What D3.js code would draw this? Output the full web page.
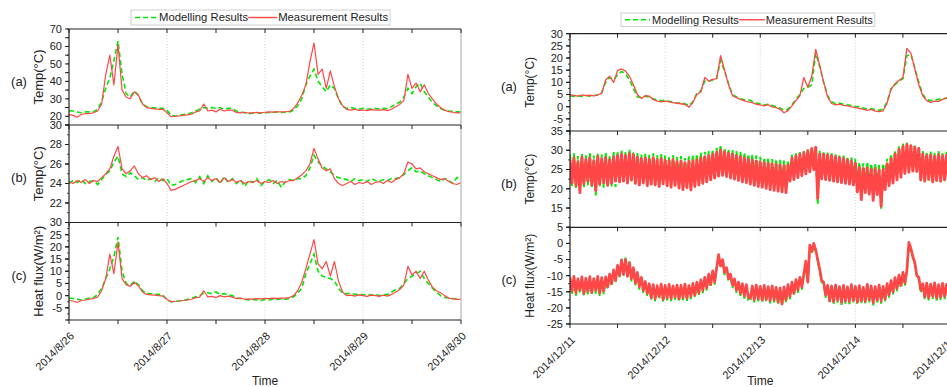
<!DOCTYPE html>
<html>
<head>
<meta charset="utf-8">
<script src="https://cdn.jsdelivr.net/npm/d3@7"></script>
<style>
  body { margin: 0; background: #fff; }
  svg { display: block; font-family: "Liberation Sans", Arial, sans-serif; }
</style>
</head>
<body>
<div id="chart"></div>
<script>
// ---- data: August run (hourly samples) ----
var augSurfMeas = [21,20.5,19.5,21,21.5,21.5,22,23,27,44,55,38,61,35,31,30,34,32,27,25,24.5,24.2,24,24,22,19.8,20,20.2,20.5,20.8,21.2,22.5,23,27,23,23.5,22.5,24,23,23.5,23.5,22.2,22,22.3,21.8,22,22.2,22,22.3,22.5,22.4,22.6,22.5,22.6,22.8,24.5,27.5,32,38,51,62,44,47,36,46,37,30,26,24,23.5,24,23.4,23.6,23.2,23.8,23.5,23.5,23.8,23.2,24,25.5,26.8,29,44,36,39,34,38,33,30,27,25,23.5,22.7,22.3,22,22];
var augSurfModel = [23,23,22.5,22,22.5,22.5,22.5,24,28.5,36,42,52,63,44,33,31,34.5,32,27,25.5,25,24.8,24.5,24.5,23.5,20.5,20.2,20.5,21,21.3,22,23,24,25,24.5,25,24.5,25,24,24.5,24.5,23,22.5,22,21.5,21.8,22,21.8,22,22.2,22.3,22.5,22.2,22.3,22.5,23.5,26,30,38,43,47,40,37,34,38,36,30,25.5,24.5,25,24.5,24,24.5,24,24.3,24.5,24.2,24.5,24.3,25.5,27,28,31,36,33,37,39,34,31,28,26,24.5,23.5,23,22.8,22.5,22.5];
var augInMeas = [24.2,24.0,24.3,24.1,24.4,24.0,24.3,24.2,24.6,25.0,25.5,26.8,27.8,25.5,25.0,25.3,25.8,25.0,24.6,24.8,24.4,24.6,24.2,24.5,24.0,23.3,23.4,23.6,23.8,24.0,24.2,24.3,24.5,24.2,24.6,24.3,24.5,24.1,24.6,24.2,24.4,24.1,24.3,24.0,24.2,24.1,24.3,24.0,24.2,24.1,24.3,24.0,24.2,24.1,24.3,24.3,24.6,24.9,25.3,26.0,27.6,26.5,25.6,25.3,25.5,24.5,24.0,23.8,24.0,24.2,23.9,24.1,24.0,24.2,23.9,24.1,24.2,24.0,24.3,24.1,24.4,24.6,25.0,26.2,26.0,25.5,25.6,25.2,25.0,24.8,24.6,24.4,24.5,24.2,24.0,23.9,24.1];
var augInModel = [24.0,24.3,24.1,24.4,24.0,24.2,24.3,23.9,24.4,24.9,25.3,26.2,26.8,25.0,24.7,25.1,24.8,24.4,24.6,24.3,24.5,24.2,24.6,24.3,24.5,23.8,23.9,24.1,24.3,24.4,24.5,24.1,24.7,24.0,24.8,24.2,24.6,24.0,24.7,24.1,24.5,24.0,24.4,23.7,24.3,24.1,24.5,23.8,24.2,24.4,24.0,24.3,23.6,24.2,24.4,24.3,24.5,24.5,24.8,25.6,26.9,26.2,25.8,25.5,25.2,24.8,24.6,24.5,24.4,24.2,24.5,24.3,24.4,24.2,24.5,24.3,24.2,24.4,24.3,24.5,24.5,24.6,24.9,25.3,25.6,25.2,25.3,25.0,24.8,24.6,24.4,24.2,24.5,24.3,24.0,24.6,24.6];
var augFluxMeas = [-2,-2.2,-2.8,-2,-1.8,-1.5,-1.2,-0.5,2,7,17,9,22,7,4.5,3.8,5.5,4,1.5,0.5,0.3,0.2,0,-0.2,-1.5,-2.5,-2.3,-2.2,-2,-1.8,-1.5,-0.8,-0.6,2,-0.5,-0.3,-0.8,0,-0.5,-0.2,-0.6,-1.2,-1,-1.5,-1.3,-1.4,-1.2,-1.3,-1.1,-1.2,-1,-1.1,-1,-1,-0.8,0,2,5.5,11,17,23,13,11,14,8,14,6,1.5,0,0.2,-0.2,0.3,0,-0.3,0.2,0,-0.3,0.2,-0.2,0.5,1.5,2.5,4.3,12,8.5,10,7,10,6.4,3.5,2,1.2,0,-1,-1.3,-1.5,-1.5];
var augFluxModel = [-1,-1.2,-1.5,-1.8,-1.5,-1,-0.8,0.5,3,7,11,16,24,10,5,4,6,4.5,2,1,0.8,0.6,0.5,0.3,-1.8,-2.5,-2.4,-2.2,-2,-1.6,-1.2,-0.5,0,1,1.2,0.8,1.5,0.5,0.8,0.3,0,-1,-1.2,-1.6,-1.8,-1.6,-1.8,-2,-1.6,-1.8,-1.5,-1.6,-1.4,-1.5,-1.2,-0.5,1,3,9,13,17,10,8,7.5,7,6,3,1,0.8,1,0.5,0.6,0.3,0.5,0.2,0.5,0,0.3,0.5,1.5,2.5,3,5,7,8,9,10,7,5,3,1.5,0,-0.8,-1,-1.2,-1.4,-1.5];

// ---- data: December run (surface hourly, inner and flux half-hourly) ----
var decSurfMeas = [5,4.6,4.3,4.8,4.5,4.7,4.4,4.9,5.5,11,12.5,10,14.8,15.5,14.6,12.5,9,5,3.4,4.5,4.3,3,2.3,2,2.3,2,1.7,1.4,1.2,0.9,-0.2,1.7,5,6,12,10.5,11.2,11.5,21,15,9,4.5,3.7,3,2.4,2,1.7,1,0.7,0.3,0.8,-0.1,-0.4,-1.1,-2.5,-1.6,0.3,2.5,4.5,12,8,12.5,23.5,17,10,4,1.3,0.7,1,0.5,0.3,-0.1,-0.4,-0.7,-1.1,-1.5,-1.1,-1.8,-2,-1.7,1.5,7,9.5,10.8,12,24,22,15.5,9,4.5,2.5,1.8,2.3,2.2,3,3.6,3.5];
var decSurfModel = [4.5,4.2,4.5,4.2,4.6,4.3,4.6,4.8,5.8,10,12,11,13,14.5,13.5,11,7.5,4,3.8,4.3,4,3.2,2.8,2.5,2.5,2.2,1.8,1.5,1.5,1.2,0.5,2,5.5,6.5,10.5,10.5,11,11.5,19,14.5,9.5,5,4,3.3,2.8,2.8,2.2,1.5,1.2,0.8,1,0.5,0,-0.5,-1.5,-1,0.8,3,5,7.5,8,9,22,16.5,10,4.5,2,1.2,1.5,1,0.8,0.5,0.2,0,-0.5,-1,-0.8,-1.2,-1.5,-1,2,7.5,9,10.5,11.5,21,21.5,16,10,5,3,2.5,2.8,3,3.2,3.5,3.5];
var decInMeas = [27.5,21.5,28,20.8,27,19,28.2,21.3,27.6,22,28,21,27.3,19.5,28.4,21.2,27.8,21.6,28.1,20.9,27.5,21.5,28.3,22,28.6,
  21.8,29,22,28.6,21.5,29.2,22.3,28.8,
  21.4,28.2,21,27.8,21.5,28,20.8,27.6,21.2,28.1,21,27.5,20.6,27.9,21.3,27.4,
  20.8,27.3,20.4,27.6,20.9,27,20.2,27.2,19.8,26.8,20.3,27.1,19.7,27.3,
  20.6,27.5,21,28,21.4,28.3,21.8,28.6,22.3,29,22.8,29.5,23.3,30.1,23.5,
  29.6,23.2,29.3,22.8,29,22.5,28.6,22.2,28.3,21.8,28,21.6,27.7,21.2,27.4,20.9,27.2,20.6,27,
  20.4,26.8,20.1,26.6,19.8,26.5,19.6,26.3,19.4,26.2,19.2,26,19.0,26.1,
  22,28,22.4,28.5,22.9,29,23.4,29.4,23.9,29.9,24.4,30.5,25,
  30.8,17.5,29,
  22.6,29,22.4,28.8,22.2,28.6,22,28.3,21.8,28.1,21.6,27.8,21.4,27.5,21.2,27.2,21,26.6,
  19.2,25.5,17.2,25.3,19,25.4,18.6,25,17,25.2,18.5,24.8,15.5,25,
  19.8,26.5,20.8,27.8,21.5,29,22.3,30.2,23,31,
  24,31.5,24.3,31.2,24.6,30.8,24.5,30.5,
  22.3,29,22,28.6,22.5,28.8,21.8,28.4,22.2,28.9,22,28.5,22.4,28.7,22.1,28.6];
var decInModel = [28.8,20.6,29.2,20.2,28.5,20.8,29,20.4,28.7,20.9,29.3,20.5,28.6,18.3,29.1,20.7,28.9,20.3,29.4,21,28.7,20.6,29.6,20.5,29.8,
  21.5,30,21.8,29.6,21.3,30.2,21.9,29.7,
  22,29.3,21.8,28.9,22.2,29.1,21.7,28.8,22.1,29.2,21.9,28.7,21.6,29,22.2,28.6,
  22,28.3,21.7,28.7,22.3,28.2,21.9,28.5,22.1,28,21.8,28.4,22.2,28.6,
  22.4,29,22.7,29.3,23,29.6,23.2,29.8,23.5,30.2,23.8,30.6,24.2,31.3,24.5,
  30.5,24.2,30.3,23.9,30.1,23.7,29.8,23.5,29.6,23.3,29.3,23.1,29,22.9,28.8,22.7,28.6,22.5,28.3,
  22.2,28,22,27.9,22.1,27.7,21.9,27.6,22,27.5,21.8,27.3,21.9,27.4,
  23.5,28.8,23.8,29.2,24.1,29.5,24.4,29.8,24.8,30.2,25.1,30.6,25.5,
  31,16,30,
  23.6,29.6,23.5,29.4,23.3,29.2,23.2,29,23,28.8,22.9,28.6,22.8,28.4,22.6,28.1,22.5,27.8,
  22,26.8,21.8,26.6,22.1,26.9,21.7,26.5,22,26.4,21.6,26.2,14.8,26.6,
  22.5,27.8,22.8,29,23.2,30,23.5,31,23.8,31.8,
  24,32,24.2,31.6,24.5,31.2,24.3,30.8,
  22,29.8,21.7,29.5,22.1,29.7,21.6,29.4,21.9,29.8,21.7,29.5,22,29.6,21.8,29.4];
var decFluxMeas = [-10.5,-14.8,-10.2,-15.3,-11,-14.5,-10.4,-15.6,-10.8,-14.9,-10.3,-15.2,-10.9,-14.6,-10.2,-15.4,-10.6,-14.8,-10.4,
  -13.5,-9.5,-12.5,-8.2,-11.5,-6.8,
  -10,-5.2,-9.6,-5,-10.2,-6,
  -11,-7.5,-12.3,-9,-13.5,-10.5,-14.6,-11.8,-15.5,-12.5,
  -16.8,-12.8,-17.2,-13.1,-16.5,-12.6,-17.4,-13,-16.9,-12.7,-17.1,-13.2,-16.6,-12.9,-17.3,-13,-16.8,-12.6,-17,-13.1,
  -16.5,-12.4,-16,-12,-15.4,-11.3,-14.6,-10.5,-13.8,-9.5,-12.8,-8.5,-12,-7.5,
  -3.5,-7,-5,
  -9,-7.5,-11,-9.5,-13,-11,-14.5,-12,-15.5,-12.5,-16.3,-12.8,-16.8,
  -17,-13.2,-17.5,-12.9,-17.2,-13.3,-17.6,-13,-17.4,-13.4,-17.8,-13.2,-17.5,-13.6,-18.2,-13.8,
  -18.8,-13.5,-17.5,-12.8,-16.5,-12,-15.5,-11.2,-14.5,-10.5,-13.5,-9.5,
  -5.5,-12,
  -0.5,-2.5,0,-2,
  -5,-8,-11.5,-12,-16,-13,
  -17.8,-13.2,-18.1,-12.9,-17.6,-13.4,-18.3,-13,-17.9,-13.5,-18,-12.8,-17.7,-13.3,-18.2,-13.1,-17.8,-13.6,-18,-12.7,-17.5,-13.2,-18.4,-13.4,-17.6,-12.9,-17.9,-13.3,-17.2,-12.5,
  -16,-11.5,-15,-10.6,-14,-9.8,-13,-9,-12.3,-8.2,
  0.3,-1.5,
  -4,-6,-10,-10.5,-14.5,-12.5,
  -16.6,-12.3,-16.9,-12.6,-16.4,-12.2,-17,-12.8,-16.7,-12.4,-16.5,-12.7,-16.8,-12.5];
var decFluxModel = [-11,-15.8,-10.8,-16.2,-11.5,-15.5,-11,-16.4,-11.3,-15.9,-10.9,-16.1,-11.4,-15.6,-10.8,-16.3,-11.2,-15.7,-11,
  -14.2,-10,-13.2,-8.6,-12,-7,
  -10.5,-4.5,-10,-4.4,-10.6,-5.5,
  -11.8,-8,-13,-9.5,-14.3,-11,-15.5,-12.3,-16.4,-13,
  -17.6,-13.3,-18,-13.6,-17.3,-13.1,-18.2,-13.5,-17.7,-13.2,-17.9,-13.7,-17.4,-13.4,-18.1,-13.5,-17.6,-13.1,-17.8,-13.6,
  -17.3,-12.9,-16.8,-12.5,-16.2,-11.8,-15.4,-11,-14.6,-10,-13.6,-9,-12.8,-8,
  -4.5,-7.5,-5.5,
  -9.8,-8,-11.8,-10,-13.8,-11.5,-15.3,-12.5,-16.3,-13,-17.1,-13.3,-17.6,
  -17.8,-13.7,-18.3,-13.4,-18,-13.8,-18.4,-13.5,-18.2,-13.9,-18.6,-13.7,-18.3,-14.1,-18.9,-14.3,
  -19.2,-14,-18.3,-13.3,-17.3,-12.5,-16.3,-11.7,-15.3,-11,-14.3,-10,
  -6.5,-12.5,
  -1.5,-3,-1,-2.5,
  -5.5,-8.5,-12,-12.5,-16.8,-13.5,
  -18.6,-13.7,-18.9,-13.4,-18.4,-13.9,-19.1,-13.5,-18.7,-14,-18.8,-13.3,-18.5,-13.8,-19,-13.6,-18.6,-14.1,-18.8,-13.2,-18.3,-13.7,-19.2,-13.9,-18.4,-13.4,-18.7,-13.8,-18,-13,
  -16.8,-12,-15.8,-11.1,-14.8,-10.3,-13.8,-9.5,-13.1,-8.7,
  -1,-2.5,
  -4.5,-6.5,-10.5,-11,-15.3,-13,
  -17.4,-12.8,-17.7,-13.1,-17.2,-12.7,-17.8,-13.3,-17.5,-12.9,-17.3,-13.2,-17.6,-13];

// tick labels shown on each y axis
var augTicksA = [20,30,40,50,60,70];
var augTicksB = [22,24,26,28,30];
var augTicksC = [-5,0,5,10,15,20,25,30];
var decTicksA = [-5,0,5,10,15,20,25,30];
var decTicksB = [15,20,25,30,35];
var decTicksC = [-25,-20,-15,-10,-5,0,5];

var seriesNames = ["Modelling Results", "Measurement Results"];
var modelColor = "#00e800", measColor = "#ff4747";

var W = 947, H = 387;
var svg = d3.select("#chart").append("svg").attr("width", W).attr("height", H);

var panels = [
  { start: new Date(2014, 7, 26), x0: 69, x1: 461, titleX: 38, letterX: 19, titleSize: 13,
    legend: { x: 131, y: 10, h: 15, size: 11.3, gLen: 22, rLen: 29 },
    rows: [
      { y0: 29, y1: 125, domain: [15, 70], ticks: augTicksA, minor: 5, title: "Temp(°C)", letter: "(a)", model: augSurfModel, meas: augSurfMeas, step: 60, w: 1.2 },
      { y0: 125, y1: 222.5, domain: [20, 30], ticks: augTicksB, minor: 1, title: "Temp(°C)", letter: "(b)", model: augInModel, meas: augInMeas, step: 60, w: 1.2 },
      { y0: 222.5, y1: 320, domain: [-10, 30], ticks: augTicksC, minor: 2.5, title: "Heat flux(W/m²)", letter: "(c)", model: augFluxModel, meas: augFluxMeas, step: 60, w: 1.2 }
    ] },
  { start: new Date(2014, 11, 11), x0: 570, x1: 950.5, titleX: 530, letterX: 509, titleSize: 12,
    legend: { x: 621, y: 13, h: 13.5, size: 11, gLen: 25, rLen: 26 },
    rows: [
      { y0: 33.7, y1: 131, domain: [-10, 30], ticks: decTicksA, minor: 2.5, title: "Temp(°C)", letter: "(a)", model: decSurfModel, meas: decSurfMeas, step: 60, w: 1.3 },
      { y0: 131, y1: 227.3, domain: [10, 35], ticks: decTicksB, minor: 2.5, title: "Temp(°C)", letter: "(b)", model: decInModel, meas: decInMeas, step: 30, w: 2.9 },
      { y0: 227.3, y1: 324, domain: [-25, 5], ticks: decTicksC, minor: 2.5, title: "Heat flux(W/m²)", letter: "(c)", model: decFluxModel, meas: decFluxMeas, step: 30, w: 2.7 }
    ] }
];

var fmtDay = function (d) { return d.getFullYear() + "/" + (d.getMonth() + 1) + "/" + d.getDate(); };

panels.forEach(function (p, pi) {
  var end = d3.timeDay.offset(p.start, 4);
  var x = d3.scaleTime().domain([p.start, end]).range([p.x0, p.x1]);
  var halfDays = d3.timeHour.every(12).range(p.start, d3.timeHour.offset(end, 1));
  var innerDays = d3.timeDay.range(d3.timeDay.offset(p.start, 1), end);

  p.rows.forEach(function (r, ri) {
    var y = d3.scaleLinear().domain(r.domain).range([r.y1, r.y0]);
    var g = svg.append("g");
    var clipId = "clip" + pi + ri;
    svg.append("clipPath").attr("id", clipId).append("rect")
      .attr("x", p.x0).attr("y", r.y0).attr("width", p.x1 - p.x0).attr("height", r.y1 - r.y0);

    // dotted day grid
    g.selectAll(".grid").data(innerDays).enter().append("line")
      .attr("x1", function (d) { return x(d); }).attr("x2", function (d) { return x(d); })
      .attr("y1", r.y0).attr("y2", r.y1)
      .attr("stroke", "#c8c8c8").attr("stroke-width", 0.8).attr("stroke-dasharray", "1,2");

    var line = d3.line()
      .x(function (v, i) { return x(d3.timeMinute.offset(p.start, i * r.step)); })
      .y(function (v) { return y(v); });

    var lines = g.append("g").attr("clip-path", "url(#" + clipId + ")");
    lines.append("path").datum(r.model).attr("d", line)
      .attr("fill", "none").attr("stroke", modelColor).attr("stroke-width", r.step < 60 ? 2 : 1.6)
      .attr("stroke-dasharray", "5,3");
    lines.append("path").datum(r.meas).attr("d", line)
      .attr("fill", "none").attr("stroke", measColor).attr("stroke-width", r.w)
      .attr("stroke-linejoin", "round");

    // right edge
    g.append("line").attr("x1", p.x1).attr("x2", p.x1).attr("y1", r.y0).attr("y2", r.y1)
      .attr("stroke", "#c4c4c4").attr("stroke-width", 1.5);

    // y axis
    var minorVals = d3.range(r.domain[0], r.domain[1] + 1e-6, r.minor);
    g.selectAll(".minor").data(minorVals).enter().append("line")
      .attr("x1", p.x0 - 2).attr("x2", p.x0)
      .attr("y1", function (d) { return y(d); }).attr("y2", function (d) { return y(d); })
      .attr("stroke", "#222").attr("stroke-width", 0.8);
    var majorVals = d3.range(r.domain[0], r.domain[1] + 1e-6, r.minor * 2).concat(r.ticks);
    g.selectAll(".major").data(majorVals).enter().append("line")
      .attr("x1", p.x0 - 4).attr("x2", p.x0)
      .attr("y1", function (d) { return y(d); }).attr("y2", function (d) { return y(d); })
      .attr("stroke", "#222").attr("stroke-width", 1);
    g.selectAll(".tl").data(r.ticks).enter().append("text")
      .attr("x", p.x0 - 7).attr("y", function (d) { return y(d); })
      .attr("dy", "0.36em").attr("text-anchor", "end")
      .attr("font-size", 11).attr("fill", "#222")
      .text(function (d) { return d; });
    g.append("line").attr("x1", p.x0).attr("x2", p.x0).attr("y1", r.y0).attr("y2", r.y1)
      .attr("stroke", "#222").attr("stroke-width", 1.2);

    // top frame with inward time ticks
    g.append("line").attr("x1", p.x0).attr("x2", p.x1).attr("y1", r.y0).attr("y2", r.y0)
      .attr("stroke", "#222").attr("stroke-width", 1.2);
    g.selectAll(".tt").data(halfDays).enter().append("line")
      .attr("x1", function (d) { return x(d); }).attr("x2", function (d) { return x(d); })
      .attr("y1", r.y0).attr("y2", r.y0 + 4)
      .attr("stroke", "#222").attr("stroke-width", 1);

    // titles
    var cy = (r.y0 + r.y1) / 2;
    g.append("text").attr("transform", "translate(" + p.titleX + "," + cy + ") rotate(-90)")
      .attr("text-anchor", "middle").attr("dy", "0.35em")
      .attr("font-size", p.titleSize).attr("fill", "#222").text(r.title);
    g.append("text").attr("x", p.letterX).attr("y", cy + 4).attr("dy", "0.35em")
      .attr("text-anchor", "middle").attr("font-size", 13).attr("fill", "#222").text(r.letter);
  });

  // bottom time axis
  var axisY = p.rows[p.rows.length - 1].y1;
  svg.append("line").attr("x1", p.x0).attr("x2", p.x1).attr("y1", axisY).attr("y2", axisY)
    .attr("stroke", "#222").attr("stroke-width", 1.2);
  svg.selectAll(null).data(halfDays).enter().append("line")
    .attr("x1", function (d) { return x(d); }).attr("x2", function (d) { return x(d); })
    .attr("y1", axisY).attr("y2", axisY + 4)
    .attr("stroke", "#222").attr("stroke-width", 1);
  var days = d3.timeDay.range(p.start, d3.timeHour.offset(end, 1));
  svg.selectAll(null).data(days).enter().append("text")
    .attr("transform", function (d) { return "translate(" + (x(d) + 3) + "," + (axisY + 14) + ") rotate(-45)"; })
    .attr("text-anchor", "end").attr("dy", "0.35em")
    .attr("font-size", 11).attr("fill", "#222").text(fmtDay);
  svg.append("text").attr("x", (p.x0 + p.x1) / 2).attr("y", 385)
    .attr("text-anchor", "middle").attr("font-size", 12).attr("fill", "#222").text("Time");

  // legend
  var L = p.legend;
  var lg = svg.append("g");
  var box = lg.append("rect").attr("x", L.x).attr("y", L.y).attr("height", L.h)
    .attr("fill", "#fff").attr("stroke", "#d0d0d0").attr("stroke-width", 1);
  var ly = L.y + L.h / 2;
  var cx = L.x + 4;
  lg.append("line").attr("x1", cx).attr("x2", cx + L.gLen).attr("y1", ly).attr("y2", ly)
    .attr("stroke", modelColor).attr("stroke-width", 1.6).attr("stroke-dasharray", "5,3");
  cx += L.gLen + 2;
  var t1 = lg.append("text").attr("x", cx).attr("y", ly).attr("dy", "0.35em")
    .attr("font-size", L.size).attr("fill", "#222").text(seriesNames[0]);
  cx += t1.node().getComputedTextLength();
  lg.append("line").attr("x1", cx).attr("x2", cx + L.rLen).attr("y1", ly).attr("y2", ly)
    .attr("stroke", measColor).attr("stroke-width", 1.4);
  cx += L.rLen + 1;
  var t2 = lg.append("text").attr("x", cx).attr("y", ly).attr("dy", "0.35em")
    .attr("font-size", L.size).attr("fill", "#222").text(seriesNames[1]);
  cx += t2.node().getComputedTextLength() + 2;
  box.attr("width", cx - L.x);
});
</script>
</body>
</html>
